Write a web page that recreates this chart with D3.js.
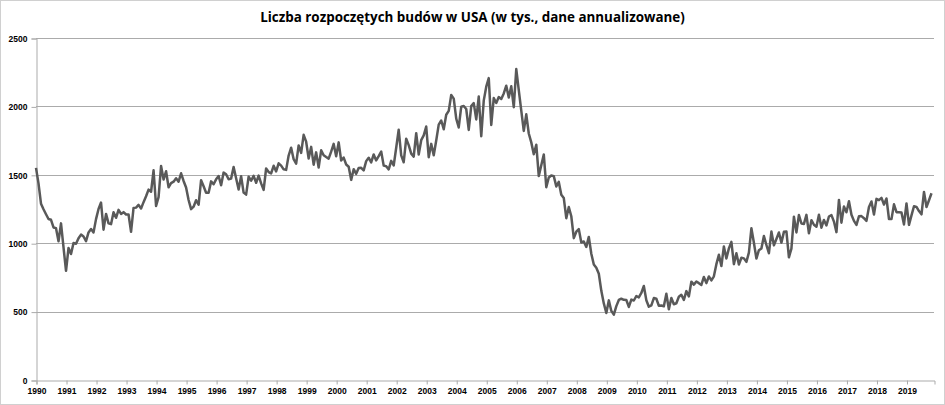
<!DOCTYPE html>
<html>
<head>
<meta charset="utf-8">
<script src="https://cdn.jsdelivr.net/npm/d3@7"></script>
<style>
  body { margin: 0; background: #fff; }
  svg { display: block; }
</style>
</head>
<body>
<svg></svg>
<script>
const width = 945;
const height = 405;
const margin = { top: 38, right: 11, bottom: 25, left: 36 };

const title = 'Liczba rozpoczętych budów w USA (w tys., dane annualizowane)';
const yearLabels = d3.range(1990, 2020).map(String);
const yTicks = [0, 500, 1000, 1500, 2000, 2500];

// monthly housing starts, thousands, Jan 1990 onwards
const starts1990s = [
  1551, 1437, 1289, 1248, 1212, 1177, 1171, 1115, 1110, 1014, 1145, 969,
  798, 965, 921, 1001, 996, 1036, 1063, 1049, 1015, 1079, 1103, 1079,
  1176, 1250, 1297, 1099, 1214, 1145, 1139, 1226, 1186, 1244, 1214, 1227,
  1210, 1210, 1083, 1258, 1260, 1280, 1254, 1300, 1343, 1392, 1376, 1533,
  1272, 1337, 1564, 1465, 1526, 1409, 1439, 1450, 1474, 1450, 1511, 1455,
  1407, 1316, 1249, 1267, 1314, 1281, 1461, 1416, 1369, 1369, 1452, 1431,
  1467, 1491, 1424, 1516, 1504, 1467, 1472, 1557, 1475, 1392, 1489, 1370,
  1355, 1486, 1457, 1492, 1442, 1494, 1437, 1390, 1546, 1520, 1510, 1566,
  1525, 1584, 1567, 1540, 1536, 1641, 1698, 1614, 1582, 1715, 1660, 1792,
  1742, 1619, 1704, 1574, 1664, 1553, 1679, 1643, 1630, 1618, 1669, 1726
];
const starts2000s = [
  1636, 1737, 1604, 1626, 1575, 1559, 1463, 1541, 1507, 1549, 1551, 1532,
  1600, 1625, 1590, 1649, 1605, 1636, 1670, 1567, 1562, 1540, 1602, 1568,
  1698, 1829, 1642, 1592, 1764, 1717, 1655, 1633, 1804, 1648, 1753, 1788,
  1853, 1629, 1726, 1643, 1751, 1867, 1897, 1833, 1939, 1967, 2083, 2057,
  1911, 1846, 1998, 2003, 1981, 1828, 2002, 2024, 1905, 2072, 1782, 2042,
  2144, 2207, 1864, 2061, 2025, 2068, 2054, 2095, 2151, 2065, 2147, 1994,
  2273, 2119, 1969, 1821, 1942, 1802, 1737, 1650, 1720, 1491, 1570, 1649,
  1409, 1480, 1495, 1490, 1415, 1448, 1354, 1330, 1183, 1264, 1197, 1037,
  1084, 1103, 1005, 1013, 973, 1046, 923, 844, 820, 777, 652, 560,
  490, 582, 505, 478, 540, 585, 594, 586, 585, 534, 588, 581
];
const starts2010s = [
  614, 604, 636, 687, 583, 536, 546, 599, 594, 543, 545, 539,
  630, 517, 600, 554, 561, 608, 623, 585, 650, 611, 719, 697,
  720, 708, 695, 753, 708, 757, 728, 758, 847, 915, 833, 976,
  888, 962, 1010, 847, 926, 844, 894, 889, 864, 931, 1109, 1003,
  888, 949, 962, 1052, 987, 927, 1085, 984, 1031, 1078, 1004, 1083,
  1086, 897, 961, 1194, 1079, 1206, 1144, 1141, 1207, 1072, 1168, 1135,
  1120, 1208, 1113, 1170, 1130, 1195, 1205, 1158, 1081, 1316, 1150, 1269,
  1226, 1307, 1208, 1163, 1134, 1197, 1198, 1183, 1163, 1264, 1305, 1210,
  1324, 1315, 1331, 1283, 1327, 1177, 1176, 1284, 1227, 1226, 1225, 1137,
  1291, 1134, 1203, 1270, 1265, 1235, 1211, 1375, 1265, 1314, 1365
];

const starts = starts1990s.concat(starts2000s, starts2010s);
const monthCount = yearLabels.length * 12; // categories on the axis

window.onload = () => {
  const svg = d3.select('svg')
      .attr('width', width)
      .attr('height', height);

  svg.append('rect')
      .attr('x', 0.5)
      .attr('y', 0.5)
      .attr('width', width - 1)
      .attr('height', height - 1)
      .attr('fill', '#fff')
      .attr('stroke', '#d0d0d0');

  const x = d3.scaleLinear()
      .domain([0, monthCount - 1])
      .range([margin.left, width - margin.right]);

  const y = d3.scaleLinear()
      .domain([0, 2500])
      .range([height - margin.bottom, margin.top]);

  // gridlines
  svg.append('g')
    .selectAll('line')
    .data(yTicks.filter(d => d > 0))
    .join('line')
      .attr('x1', margin.left)
      .attr('x2', width - margin.right)
      .attr('y1', d => Math.round(y(d)) + 0.5)
      .attr('y2', d => Math.round(y(d)) + 0.5)
      .attr('stroke', '#ababab')
      .attr('stroke-width', 1);

  const yAxis = svg.append('g')
      .attr('transform', `translate(${margin.left + 0.5},0.5)`)
      .call(d3.axisLeft(y).tickValues(yTicks).tickSize(5).tickPadding(4).tickFormat(d3.format('d')));

  const xAxis = svg.append('g')
      .attr('transform', `translate(0.5,${Math.round(y(0)) + 0.5})`)
      .call(d3.axisBottom(x)
        .tickValues(yearLabels.map((d, i) => i * 12))
        .tickSize(4)
        .tickPadding(3)
        .tickFormat((d, i) => yearLabels[i]));

  [yAxis, xAxis].forEach(g => {
    g.select('.domain').attr('stroke', '#ababab');
    g.selectAll('.tick line').attr('stroke', '#ababab');
    g.selectAll('.tick text')
        .attr('fill', '#000')
        .style('font-family', '"Liberation Sans", Arial, sans-serif')
        .style('font-weight', 'bold')
        .style('font-size', '8.5px');
  });

  const line = d3.line()
      .x((d, i) => x(i))
      .y(d => y(d));

  svg.append('path')
      .datum(starts)
      .attr('d', line)
      .attr('fill', 'none')
      .attr('stroke', '#595959')
      .attr('stroke-width', 2.5)
      .attr('stroke-linejoin', 'round');

  svg.append('text')
      .attr('x', width / 2)
      .attr('y', 22)
      .attr('text-anchor', 'middle')
      .style('font-family', '"Open Sans", sans-serif')
      .style('font-weight', 'bold')
      .style('font-size', '13.4px')
      .text(title);
};
</script>
</body>
</html>
